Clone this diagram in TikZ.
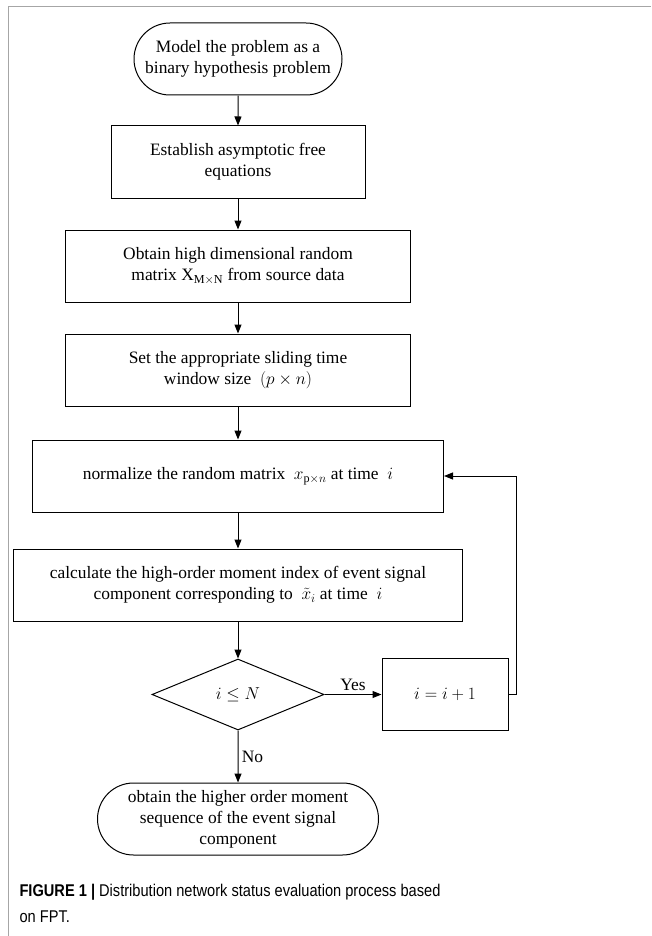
\documentclass[tikz,border=0pt]{standalone}
\usepackage{fontspec}
\setmainfont{Liberation Serif}
\newfontfamily\capfont[FakeStretch=0.86]{Liberation Sans}
\usetikzlibrary{shapes.geometric,shapes.misc,arrows.meta,positioning}
\newcommand{\flowfont}{\fontsize{17.4}{21}\selectfont}
\tikzset{
  proc/.style={rectangle,draw,line width=1pt,minimum height=72pt,
    align=center,font=\flowfont},
  term/.style={rounded rectangle,draw,line width=1pt,minimum height=72pt,
    inner sep=2pt,align=center,font=\flowfont},
  dec/.style={diamond,draw,line width=1pt,minimum width=172pt,
    minimum height=71pt,inner sep=0pt,font=\flowfont},
  arr/.style={-{Triangle[length=9pt,width=7pt]},line width=1pt},
}

\begin{document}
\begin{tikzpicture}[x=1pt,y=1pt]
  \useasboundingbox (0,0) rectangle (651,-936);
  \draw[gray!70,line width=1pt] (8,-936) -- (8,-7) -- (651,-7);

  \node[term,minimum width=212pt] (model) at (238,-59)
    {Model the problem as a\\binary hypothesis problem};
  \node[proc,minimum width=254pt,below=30pt of model] (free)
    {Establish asymptotic free\\equations};
  \node[proc,minimum width=345pt,below=31pt of free] (data)
    {Obtain high dimensional random\\matrix $\mathrm{X}_{\mathrm{M\times N}}$ from source data};
  \node[proc,minimum width=345pt,below=31pt of data] (win)
    {Set the appropriate sliding time\\window size \ $(p\times n)$};
  \node[proc,minimum width=411pt,below=33pt of win] (norm)
    {normalize the random matrix \ $x_{\mathrm{p}\times n}$ at time \ $i$};
  \node[proc,minimum width=449pt,below=36pt of norm] (calc)
    {calculate the high-order moment index of event signal\\component corresponding to \ $\tilde{x}_i$ at time \ $i$};
  \node[dec,below=37pt of calc] (chk) {$i\le N$};
  \node[proc,minimum width=126pt,right=57pt of chk] (inc) {$i=i+1$};
  \node[term,minimum width=285pt,below=52pt of chk] (seq)
    {obtain the higher order moment\\sequence of the event signal\\component};

  \draw[arr] (model) -- (free);
  \draw[arr] (free) -- (data);
  \draw[arr] (data) -- (win);
  \draw[arr] (win) -- (norm);
  \draw[arr] (norm) -- (calc);
  \draw[arr] (calc) -- (chk);
  \draw[arr] (chk) -- node[above,font=\flowfont]{Yes} (inc);
  \draw[arr] (inc.east) -- ++(8,0) |- (norm.east);
  \draw[arr] (chk) -- node[right,font=\flowfont]{No} (seq);

  \node[anchor=north west,align=left,font=\capfont\fontsize{17}{26}\selectfont] (cap)
    at (16,-881) {\textbf{FIGURE 1 |} Distribution network status evaluation process based\\on FPT.};
\end{tikzpicture}
\end{document}
